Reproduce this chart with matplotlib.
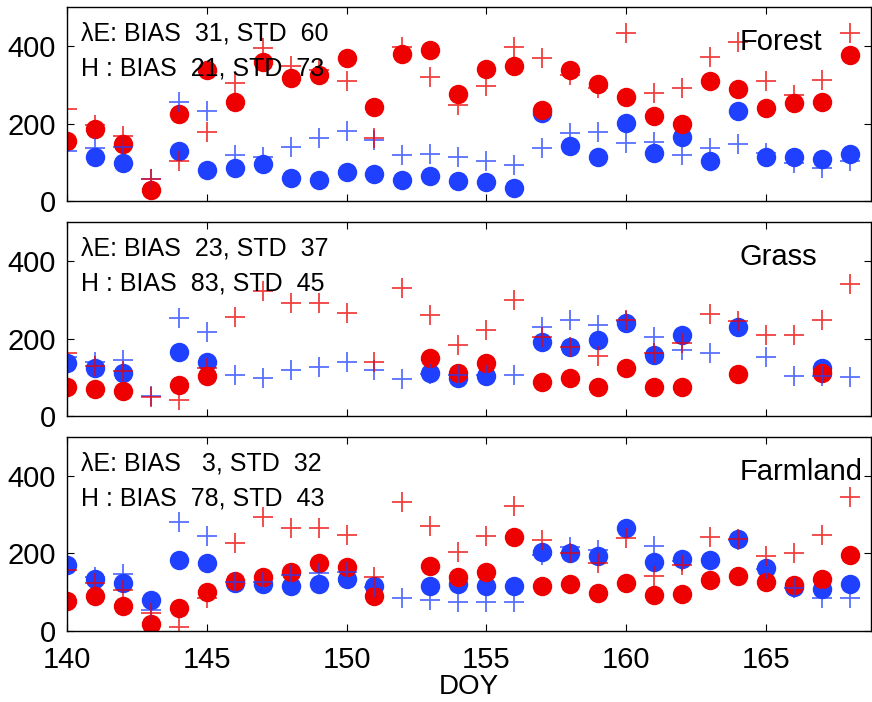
import numpy as np
import matplotlib
matplotlib.use("Agg")
import matplotlib.pyplot as plt

nan = np.nan
doy = np.arange(140, 169)

# Forest
forest_le_obs = [155, 186, 147, 28, 224, 338, 256, 360, 317, 325, 368, 243, 379, 391, 275,
                 342, 348, 235, 338, 301, 269, 219, 200, 310, 288, 241, 252, 256, 378]
forest_h_obs = [nan, 113, 97, nan, 130, 80, 86, 95, 60, 54, 74, 69, 54, 65, 52,
                50, 34, 226, 143, 114, 202, 123, 166, 103, 232, 113, 113, 108, 121]
forest_le_mod = [237, 196, 168, 58, 104, 179, 304, 396, 348, 338, 310, 163, 398, 321, 247,
                 298, 398, 370, 325, 291, 433, 280, 292, 371, 410, 310, 274, 312, 434]
forest_h_mod = [130, 136, 140, 57, 255, 232, 119, 114, 140, 162, 181, 157, 118, 120, 114,
                103, 93, 136, 175, 177, 149, 151, 119, 138, 147, 123, 97, 84, 102]

# Grass
grass_le_obs = [76, 71, 65, nan, 80, 103, nan, nan, nan, nan, nan, nan, nan, 151, 110,
                136, nan, 89, 99, 76, 123, 76, 74, nan, 108, nan, nan, 110, nan]
grass_h_obs = [138, 123, 112, nan, 166, 140, nan, nan, nan, nan, nan, nan, nan, 110, 97,
               102, nan, 192, 177, 196, 239, 157, 209, nan, 231, nan, nan, 123, nan]
grass_le_mod = [163, 130, 117, 50, 41, 125, 255, 323, 293, 293, 265, 140, 331, 262, 183,
                222, 299, 205, 177, 155, 249, 162, 189, 263, 245, 209, 209, 248, 340]
grass_h_mod = [153, 140, 145, 52, 252, 218, 106, 99, 119, 127, 140, 119, 95, 108, 106,
               105, 106, 230, 249, 235, 245, 205, 170, 162, nan, 153, 104, 102, 100]

# Farmland
farm_le_obs = [78, 91, 65, 17, 58, 100, 130, 140, 153, 175, 164, 91, nan, 168, 140,
               153, 243, 116, 120, 99, 125, 93, 95, 132, 142, 127, 119, 133, 196]
farm_h_obs = [169, 133, 125, 80, 183, 176, 123, 120, 116, 120, 134, 117, nan, 117, 120,
              117, 117, 205, 202, 194, 267, 179, 185, 182, 237, 162, 113, 108, 121]
farm_le_mod = [157, 125, 106, 46, 11, 84, 226, 295, 265, 265, 248, 140, 334, 272, 203,
               245, 323, 235, 200, 176, 239, 142, 170, 243, 237, 194, 200, 249, 347]
farm_h_mod = [165, 140, 147, 54, 280, 245, 127, 127, 145, 149, 153, 114, 84, 80, 76,
              76, 74, 196, 218, 209, nan, 219, 180, nan, 235, 160, 110, 84, 84]

panels = [
    ("Forest", forest_le_obs, forest_h_obs, forest_le_mod, forest_h_mod,
     "\u03bbE: BIAS  31, STD  60", "H : BIAS  21, STD  73"),
    ("Grass", grass_le_obs, grass_h_obs, grass_le_mod, grass_h_mod,
     "\u03bbE: BIAS  23, STD  37", "H : BIAS  83, STD  45"),
    ("Farmland", farm_le_obs, farm_h_obs, farm_le_mod, farm_h_mod,
     "\u03bbE: BIAS   3, STD  32", "H : BIAS  78, STD  43"),
]

plt.rcParams['font.family'] = ['Liberation Sans', 'DejaVu Sans']

red = '#ee0000'
blue = '#2040ff'

fig = plt.figure(figsize=(8.72, 7.02), dpi=100)
tops = [0.9896, 0.6833, 0.3771]
h = 0.2759
for i, (name, le_o, h_o, le_m, h_m, t1, t2) in enumerate(panels):
    ax = fig.add_axes([0.0765, tops[i] - h, 0.9225, h])
    ax.plot(doy, h_o, 'o', color=blue, ms=14, mec='none')
    ax.plot(doy, le_o, 'o', color=red, ms=14, mec='none')
    ax.plot(doy, h_m, '+', color=blue, ms=14, mew=1.3, alpha=0.75)
    ax.plot(doy, le_m, '+', color=red, ms=14, mew=1.3, alpha=0.75)
    ax.set_xlim(140, 168.75)
    ax.set_ylim(0, 500)
    ax.set_yticks([0, 200, 400])
    ax.set_xticks([140, 145, 150, 155, 160, 165])
    ax.tick_params(direction='in', top=True, right=True, length=5,
                   labelsize=21, pad=8)
    ax.tick_params(axis='x', pad=11)
    if i < 2:
        ax.tick_params(labelbottom=False)
    for s in ax.spines.values():
        s.set_linewidth(1.0)
    ax.text(0.0174, 0.831, t1, transform=ax.transAxes, fontsize=18)
    ax.text(0.0174, 0.650, t2, transform=ax.transAxes, fontsize=18)
    ax.text(0.836, 0.78, name, transform=ax.transAxes, fontsize=21)
    if i == 2:
        ax.set_xlabel('DOY', fontsize=20, labelpad=0)

fig.savefig('out.png', dpi=100)
